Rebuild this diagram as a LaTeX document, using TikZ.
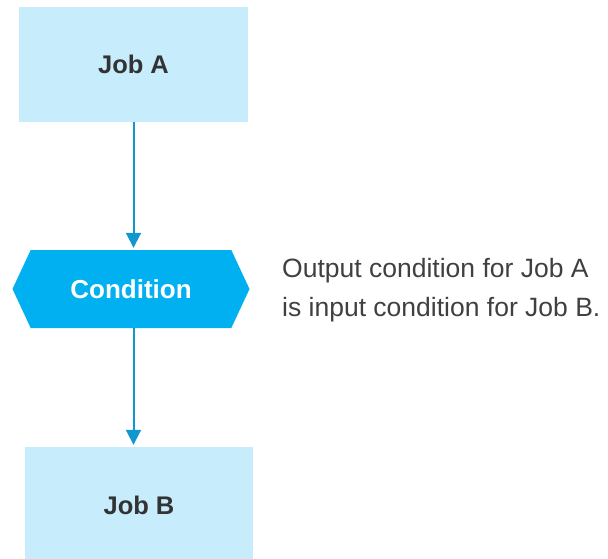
\documentclass[tikz,border=0pt]{standalone}
\usepackage{fontspec}
\setmainfont{Liberation Sans}
\usetikzlibrary{shapes.symbols,arrows.meta}

\definecolor{jobfill}{RGB}{199,236,252}
\definecolor{condfill}{RGB}{0,176,240}
\definecolor{flowline}{RGB}{18,150,206}
\definecolor{jobtext}{RGB}{51,51,51}
\definecolor{notetext}{RGB}{64,64,64}

\begin{document}
\begin{tikzpicture}
  [x=1pt,y=-1pt,
   every node/.style={inner sep=0pt,font=\fontsize{25.5}{39}\selectfont},
   job/.style={rectangle,fill=jobfill,text=jobtext,font=\fontsize{25.5}{39}\selectfont\bfseries},
   cond/.style={signal,signal to=east and west,signal pointer angle=130,
     fill=condfill,text=white,font=\fontsize{26}{39}\selectfont\bfseries,
     minimum width=237pt,minimum height=78pt},
   flow/.style={draw=flowline,line width=2pt,shorten >=2pt,
     -{Triangle[width=15pt,length=15pt]}}]
  \useasboundingbox (0,0) rectangle (608,558);
  \clip (0,0) rectangle (608,558);
  \node[job,minimum width=229pt,minimum height=115pt] (jobA) at (133.5,64.5) {Job A};
  \node[cond] (cond) at (131,289) {Condition};
  \node[job,minimum width=228pt,minimum height=116pt] (jobB) at (139,505) {Job B};
  \node[text=notetext,align=left,anchor=base west,font=\fontsize{26.5}{39.5}\selectfont]
    (note) at (282,316.5)
    {Output condition for Job A\\is input condition for Job B.};
  \foreach \from/\to in {jobA/cond,cond/jobB}
    \draw[flow] (\from.south -| jobA.south) -- (\to.north -| jobA.south);
\end{tikzpicture}
\end{document}
